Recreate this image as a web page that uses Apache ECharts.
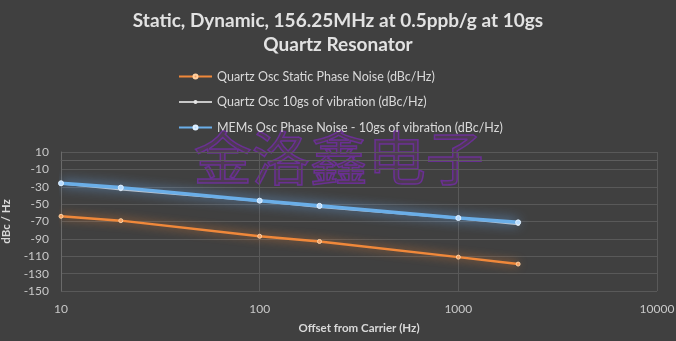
<!DOCTYPE html>
<html><head><meta charset="utf-8">
<script src="https://cdn.jsdelivr.net/npm/echarts@6/dist/echarts.min.js"></script>
<style>html,body{margin:0;padding:0;background:#404040;}#c{width:676px;height:341px;}</style>
</head><body><div id="c"></div>
<script>
const offsets = [10, 20, 100, 200, 1000, 2000];
const quartzStatic = [-64, -69, -87, -93, -111, -119];
const quartzVib = [-26, -33, -46, -53, -66, -73];
const memsVib = [-26, -31, -46, -52, -66, -71];
const seriesNames = ['Quartz Osc Static Phase Noise (dBc/Hz)', 'Quartz Osc 10gs of vibration (dBc/Hz)', 'MEMs Osc Phase Noise - 10gs of vibration (dBc/Hz)'];
const titleLines = ['Static, Dynamic, 156.25MHz at 0.5ppb/g at 10gs', 'Quartz Resonator'];
const watermark = '金洛鑫电子';

const font = 'Lato, "Open Sans", sans-serif';
function pts(v){ return offsets.map((x,i)=>[x, v[i]]); }
const chart = echarts.init(document.getElementById('c'), null, {renderer:'canvas'});
chart.setOption({
  backgroundColor: '#404040',
  animation: false,
  title: {
    text: titleLines.join('\n'), left: 'center', top: 4,
    textStyle: {color: '#e2e2e2', fontSize: 19, fontWeight: 'bold', fontFamily: font, lineHeight: 24}
  },
  legend: {
    orient: 'vertical', left: 173, top: 65, itemGap: 12.5, itemWidth: 33, itemHeight: 5,
    textStyle: {color: '#d9d9d9', fontSize: 12.5, fontFamily: font},
    data: seriesNames
  },
  graphic: [{
    type: 'text', left: 193, top: 128, z: 0,
    style: {text: watermark, fontSize: 58, fontFamily: '"Noto Sans CJK SC"', fill: 'rgba(140,40,170,0.18)', stroke: 'rgba(130,40,200,0.6)', lineWidth: 1.5, letterSpacing: 4}
  }],
  grid: {left: 61, right: 19, top: 152, bottom: 50, outerBoundsMode: 'none', containLabel: false},
  xAxis: {
    type: 'log', logBase: 10, min: 10, max: 10000,
    name: 'Offset from Carrier (Hz)', nameLocation: 'middle', nameGap: 31,
    nameTextStyle: {color: '#d9d9d9', fontSize: 11.5, fontWeight: 'bold', fontFamily: font},
    axisLine: {show: true, lineStyle: {color: '#5e5e5e'}},
    axisTick: {show: false},
    axisLabel: {color: '#c8c8c8', fontSize: 12, fontFamily: font, margin: 12, formatter: v => String(v)},
    splitLine: {show: true, lineStyle: {color: '#595959'}},
    minorTick: {show: false}
  },
  yAxis: {
    type: 'value', min: -150, max: 10, interval: 20,
    name: 'dBc / Hz', nameLocation: 'middle', nameGap: 39,
    nameTextStyle: {color: '#d9d9d9', fontSize: 11.5, fontWeight: 'bold', fontFamily: font},
    axisLine: {show: true, lineStyle: {color: '#6a6a6a'}},
    axisTick: {show: false},
    axisLabel: {color: '#c8c8c8', fontSize: 12, fontFamily: font, margin: 12},
    splitLine: {show: true, lineStyle: {color: '#595959'}}
  },
  series: [
    {name: seriesNames[0], type: 'line', data: pts(quartzStatic), symbol: 'circle', symbolSize: 4, z: 3,
     lineStyle: {color: '#f0883a', width: 2.5, shadowColor: 'rgba(240,130,50,0.85)', shadowBlur: 10},
     itemStyle: {color: '#f6a060', borderColor: '#ffd0a0', borderWidth: 1}},
    {name: seriesNames[1], type: 'line', data: pts(quartzVib), symbol: 'circle', symbolSize: 4, z: 3,
     lineStyle: {color: '#c8c8c8', width: 2.5},
     itemStyle: {color: '#e6e6e6'}},
    {name: seriesNames[2], type: 'line', data: pts(memsVib), symbol: 'circle', symbolSize: 5, z: 4,
     lineStyle: {color: '#6aaee8', width: 3.5, shadowColor: 'rgba(110,180,255,0.9)', shadowBlur: 12},
     itemStyle: {color: '#b8dcff', borderColor: '#dff0ff', borderWidth: 1}}
  ]
});
</script></body></html>
